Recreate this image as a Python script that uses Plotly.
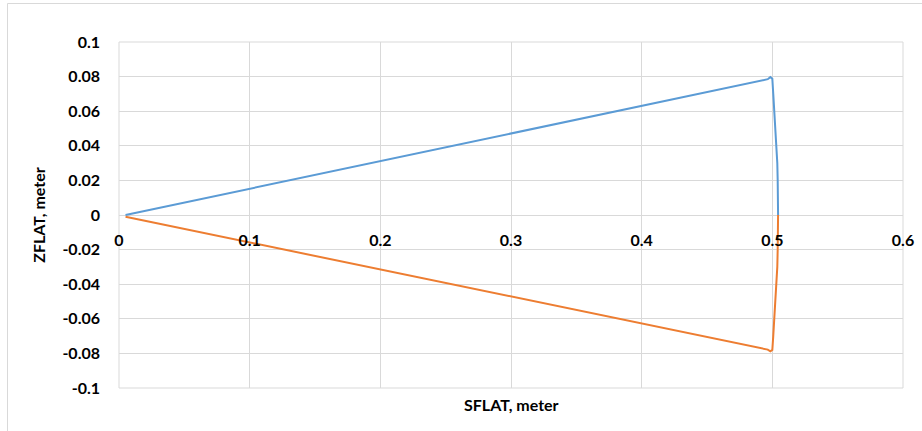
import plotly.graph_objects as go

# Series (SFLAT, ZFLAT in meters)
upper_s = [0.005, 0.4965, 0.4985, 0.5000, 0.5007, 0.5015, 0.5025, 0.5032, 0.5038, 0.5041, 0.5043, 0.5044]
upper_z = [0.000, 0.0785, 0.0797, 0.0788, 0.0700, 0.0600, 0.0500, 0.0400, 0.0300, 0.0200, 0.0100, 0.0000]

lower_s = [0.005, 0.4965, 0.4985, 0.5000, 0.5007, 0.5015, 0.5025, 0.5032, 0.5038, 0.5041, 0.5043, 0.5044]
lower_z = [-0.001, -0.0778, -0.0788, -0.0780, -0.0700, -0.0600, -0.0500, -0.0400, -0.0300, -0.0200, -0.0100, 0.0000]

x_ticks = [0, 0.1, 0.2, 0.3, 0.4, 0.5, 0.6]
x_tick_text = ["0", "0.1", "0.2", "0.3", "0.4", "0.5", "0.6"]
y_ticks = [0.1, 0.08, 0.06, 0.04, 0.02, 0, -0.02, -0.04, -0.06, -0.08, -0.1]
y_tick_text = ["0.1", "0.08", "0.06", "0.04", "0.02", "0", "-0.02", "-0.04", "-0.06", "-0.08", "-0.1"]

FONT = "Lato"
GRID = "#d9d9d9"

fig = go.Figure()
fig.add_trace(go.Scatter(x=upper_s, y=upper_z, mode="lines",
                         line=dict(color="#5B9BD5", width=2), showlegend=False))
fig.add_trace(go.Scatter(x=lower_s, y=lower_z, mode="lines",
                         line=dict(color="#ED7D31", width=2), showlegend=False))

W, H = 922, 431
L, R, T, B = 119, 19, 42, 43
pw, ph = W - L - R, H - T - B

def px_x(p):
    return (p - L) / pw

def px_y(p):
    return (H - B - p) / ph

fig.update_layout(
    width=W, height=H,
    margin=dict(l=L, r=R, t=T, b=B, autoexpand=False),
    paper_bgcolor="white", plot_bgcolor="white",
    font=dict(family=FONT, size=16, color="#000000"),
    xaxis=dict(
        range=[0, 0.6], tickvals=x_ticks, ticktext=x_tick_text,
        showgrid=True, gridcolor=GRID, gridwidth=1, zeroline=False,
        showline=False, ticks="", anchor="free", position=0.5,
        automargin=False,
        tickfont=dict(family=FONT, size=16, weight=700, color="#000000"),
        ticklabelstandoff=14,
    ),
    yaxis=dict(
        range=[-0.1, 0.1], tickvals=y_ticks, ticktext=y_tick_text,
        showgrid=True, gridcolor=GRID, gridwidth=1,
        zeroline=True, zerolinecolor=GRID, zerolinewidth=1,
        showline=False, ticks="", automargin=False,
        tickfont=dict(family=FONT, size=16, weight=700, color="#000000"),
        ticklabelstandoff=18,
        title=dict(text="ZFLAT, meter", standoff=12,
                   font=dict(family=FONT, size=16, weight=700, color="#000000")),
    ),
    shapes=[
        dict(type="rect", xref="paper", yref="paper", x0=0, x1=1, y0=0, y1=1,
             line=dict(color=GRID, width=1), layer="below"),
        dict(type="rect", xref="paper", yref="paper",
             x0=px_x(7.5), x1=px_x(930), y0=px_y(440), y1=px_y(3.5),
             line=dict(color=GRID, width=1), layer="below"),
    ],
    annotations=[
        dict(text="SFLAT, meter", xref="paper", yref="paper",
             x=0.5, y=px_y(404), xanchor="center", yanchor="middle",
             showarrow=False,
             font=dict(family=FONT, size=16, weight=700, color="#000000")),
    ],
)

fig.write_html("out.html",
               config={"displayModeBar": False},
               post_script="document.body.style.margin='0';document.body.style.padding='0';")
